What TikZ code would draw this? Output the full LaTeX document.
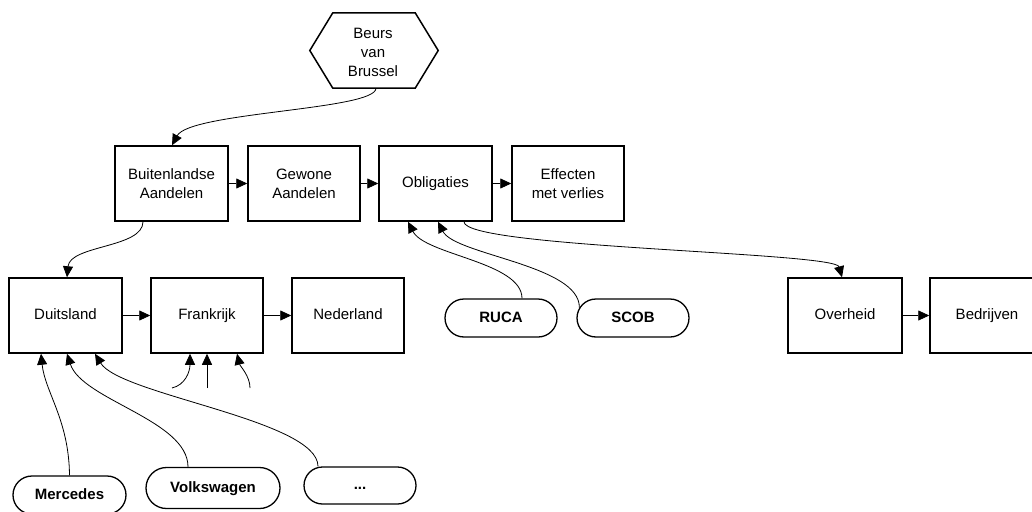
\documentclass[tikz,border=0pt]{standalone}
\usepackage{fontspec}
\setmainfont{Liberation Sans}
\usetikzlibrary{arrows.meta,shapes.misc}
\begin{document}
\begin{tikzpicture}[x=1pt,y=-1pt,
  txt/.style={font=\fontsize{15}{19}\selectfont},
  box/.style={txt,draw,line width=1.5pt,minimum width=113pt,minimum height=75pt,align=center,inner sep=0pt},
  oneline/.style={text height=11pt,text depth=3pt},
  pill/.style={draw,rounded rectangle,line width=1.3pt,minimum width=112pt,minimum height=38pt,inner sep=0pt,text height=11pt,text depth=3pt,font=\fontsize{15}{19}\selectfont\bfseries},
  conn/.style={line width=0.8pt,-{Triangle[length=11pt,width=10pt]}},
]
\useasboundingbox (0,0) rectangle (1032,511);

% hexagon
\node[txt,minimum width=128pt,minimum height=75pt,inner sep=0pt,align=center] (hex) at (374,50.5) {};
\node[txt,align=center,inner sep=0pt] (hextxt) at (373,52) {Beurs\\van\\Brussel};
\draw[line width=1.5pt] (hex.west) -- ([xshift=23pt]hex.north west) -- ([xshift=-23pt]hex.north east) -- (hex.east) -- ([xshift=-23pt]hex.south east) -- ([xshift=23pt]hex.south west) -- cycle;

% row 1
\node[box] (buit) at (171.5,183.5) {Buitenlandse\\Aandelen};
\node[box,minimum width=112pt] (gew) at (304,183.5) {Gewone\\Aandelen};
\node[box,oneline] (obl) at (435.5,183.5) {Obligaties};
\node[box,minimum width=112pt] (eff) at (568,183.5) {Effecten\\met verlies};

% row 2
\node[box,oneline] (dui) at (65.5,315.5) {Duitsland};
\node[box,oneline,minimum width=112pt] (fra) at (207,315.5) {Frankrijk};
\node[box,oneline,minimum width=112pt] (ned) at (348,315.5) {Nederland};
\node[box,oneline,minimum width=114pt] (ove) at (845,315.5) {Overheid};
\node[box,oneline,minimum width=114pt] (bed) at (987,315.5) {Bedrijven};

% pills
\node[pill] (ruca) at (501,318) {RUCA};
\node[pill] (scob) at (633,318) {SCOB};
\node[pill,minimum width=113pt] (merc) at (69.5,495) {Mercedes};
\node[pill,minimum width=134pt,minimum height=41pt] (vw) at (213,488) {Volkswagen};
\node[pill,minimum height=37pt] (dots) at (360,485.5) {...};

% free ends
\coordinate (f1) at (172,388);
\coordinate (f2) at (207,388);
\coordinate (f3) at (250,388);

% horizontal arrows
\draw[conn] (buit) -- (gew);
\draw[conn] (gew) -- (obl);
\draw[conn] (obl) -- (eff);
\draw[conn] (dui) -- (fra);
\draw[conn] (fra) -- (ned);
\draw[conn] (ove) -- (bed);

% curved connectors
\draw[conn] ([xshift=2pt]hex.south) .. controls (376,110) and (190,112) .. ([xshift=0.5pt]buit.north);
\draw[conn] ([xshift=-28.5pt]buit.south) .. controls (143,248) and (70,245) .. ([xshift=1.5pt]dui.north);
\draw[conn] ([xshift=28.5pt]obl.south) .. controls (464,248) and (835,252) .. ([xshift=-3pt]ove.north);
\draw[conn] ([xshift=21pt]ruca.north) .. controls (522,262) and (425,255) .. ([xshift=-27.5pt]obl.south);
\draw[conn] (scob.169) .. controls (580,265) and (455,255) .. ([xshift=2.5pt]obl.south);

\draw[conn] (merc.north) .. controls (69,420) and (45,392) .. ([xshift=-24.5pt]dui.south);
\draw[conn] ([xshift=-25pt]vw.north) .. controls (188,420) and (82,400) .. ([xshift=1.5pt]dui.south);
\draw[conn] ([xshift=-42pt]dots.north) .. controls (318,420) and (120,395) .. ([xshift=29.5pt]dui.south);

\draw[conn] (f1) .. controls (185,385) and (190,372) .. ([xshift=-17pt]fra.south);
\draw[conn] (f2) -- (fra.south);
\draw[conn] (f3) .. controls (250,376) and (240,366) .. ([xshift=30pt]fra.south);
\end{tikzpicture}
\end{document}
